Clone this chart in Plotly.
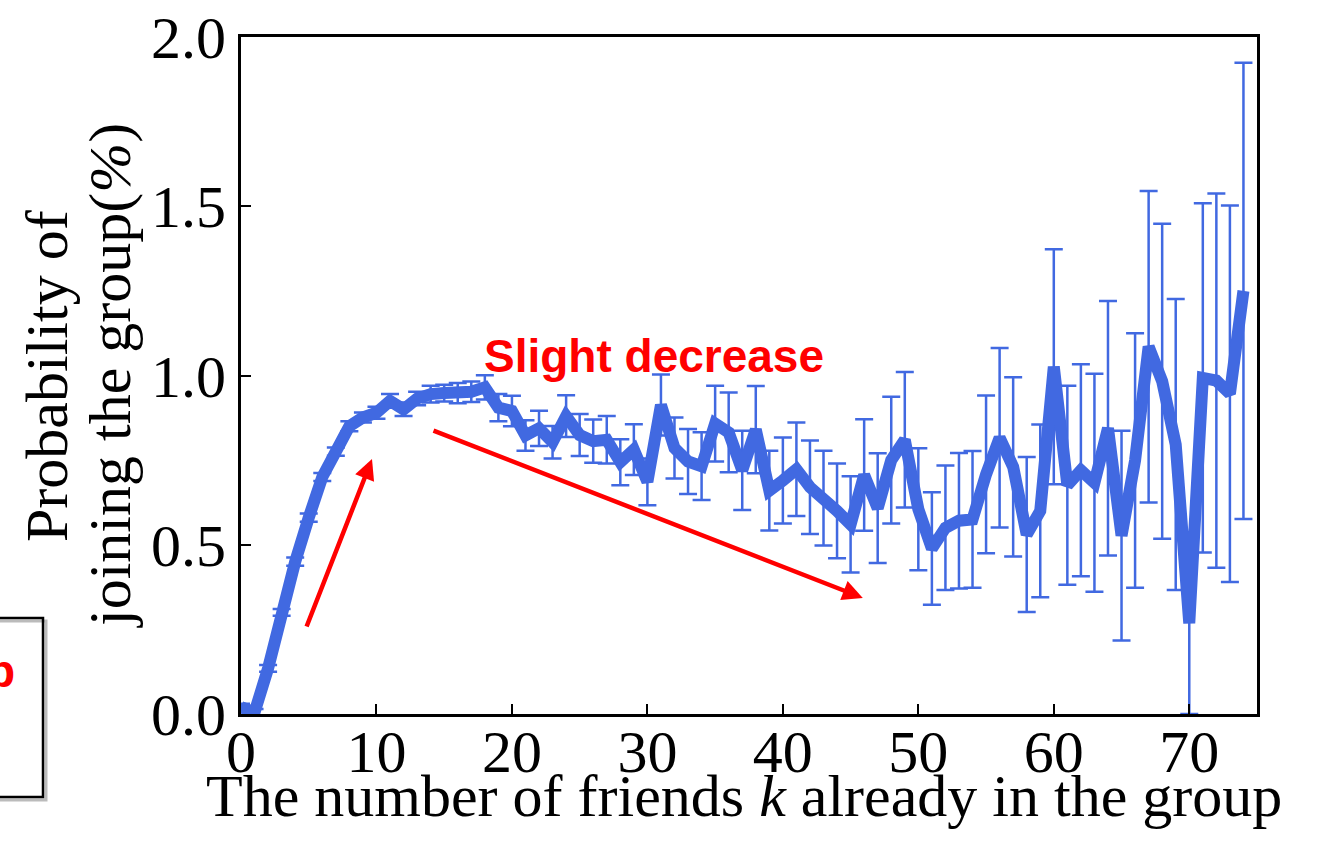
import plotly.graph_objects as go

# ---- data ----
k_values = list(range(75))
prob = [0.02, 0.005, 0.135, 0.30, 0.45, 0.58, 0.70, 0.775, 0.85, 0.876,
        0.89, 0.925, 0.90, 0.932, 0.945, 0.948, 0.948, 0.952, 0.965, 0.905,
        0.895, 0.823, 0.844, 0.803, 0.88, 0.824, 0.806, 0.81, 0.744, 0.781,
        0.686, 0.913, 0.786, 0.746, 0.732, 0.858, 0.832, 0.72, 0.84, 0.66,
        0.69, 0.723, 0.67, 0.638, 0.60, 0.56, 0.706, 0.608, 0.75, 0.81,
        0.605, 0.489, 0.55, 0.571, 0.575, 0.708, 0.816, 0.73, 0.53, 0.60,
        1.026, 0.676, 0.72, 0.683, 0.844, 0.527, 0.749, 1.085, 0.983, 0.796,
        0.268, 0.993, 0.985, 0.946, 1.25]
err = [0.01, 0.01, 0.01, 0.01, 0.012, 0.012, 0.012, 0.012, 0.015, 0.015,
       0.018, 0.02, 0.02, 0.02, 0.025, 0.025, 0.03, 0.03, 0.036, 0.04,
       0.045, 0.045, 0.052, 0.048, 0.062, 0.062, 0.064, 0.07, 0.068, 0.075,
       0.069, 0.09, 0.09, 0.096, 0.10, 0.112, 0.118, 0.117, 0.129, 0.118,
       0.127, 0.138, 0.138, 0.14, 0.14, 0.142, 0.165, 0.162, 0.187, 0.20,
       0.18, 0.166, 0.184, 0.20, 0.202, 0.233, 0.265, 0.265, 0.229, 0.255,
       0.347, 0.294, 0.313, 0.322, 0.376, 0.31, 0.376, 0.46, 0.465, 0.43,
       0.268, 0.516, 0.553, 0.556, 0.674]
x_ticks = [0, 10, 20, 30, 40, 50, 60, 70]
y_ticks = [0.0, 0.5, 1.0, 1.5, 2.0]

BLUE = "#4169E1"
SERIF = "Liberation Serif"
SANS = "Liberation Sans"

fig = go.Figure()
fig.add_trace(go.Scatter(
    x=k_values, y=prob, mode="markers",
    marker=dict(size=1, color=BLUE, opacity=0),
    error_y=dict(type="data", array=err, visible=True, color=BLUE,
                 thickness=2.5, width=9),
    showlegend=False, hoverinfo="skip"))
fig.add_trace(go.Scatter(
    x=k_values, y=prob, mode="lines",
    line=dict(color=BLUE, width=12),
    showlegend=False))

W, H = 1317, 848
L, R, T, B = 241, 60, 37, 134
pw, ph = W - L - R, H - T - B

def px(xp):
    return (xp - L) / pw

def py(yp):
    return (H - B - yp) / ph

fig.update_layout(
    width=W, height=H,
    margin=dict(l=L, r=R, t=T, b=B),
    paper_bgcolor="white", plot_bgcolor="white",
    font=dict(family=SERIF, color="black"),
    xaxis=dict(range=[0, 75], tickvals=x_ticks, ticks="inside", ticklen=10,
               tickwidth=2, tickcolor="black", showline=True, linewidth=3,
               linecolor="black", mirror=True, showgrid=False, zeroline=False,
               automargin=False, ticklabelstandoff=-17,
               tickfont=dict(family=SERIF, size=60, color="black")),
    yaxis=dict(range=[0, 2.0], tickvals=y_ticks, tickformat=".1f",
               ticks="inside", ticklen=10, tickwidth=2, tickcolor="black",
               showline=True, linewidth=3, linecolor="black", mirror=True,
               showgrid=False, zeroline=False, automargin=False,
               tickfont=dict(family=SERIF, size=60, color="black")),
)

annotations = [
    dict(text="The number of friends <i>k</i> already in the group",
         xref="paper", yref="paper", x=px(744), y=py(796),
         xanchor="center", yanchor="middle", showarrow=False,
         font=dict(family=SERIF, size=60, color="black")),
    dict(text="Probability of", xref="paper", yref="paper",
         x=px(47), y=py(376), xanchor="center", yanchor="middle",
         textangle=-90, showarrow=False,
         font=dict(family=SERIF, size=60, color="black")),
    dict(text="joining the group(<i>%</i>)", xref="paper", yref="paper",
         x=px(110), y=py(376), xanchor="center", yanchor="middle",
         textangle=-90, showarrow=False,
         font=dict(family=SERIF, size=60, color="black")),
    dict(text="<b>Slight decrease</b>", xref="x", yref="y",
         x=30.5, y=1.058, xanchor="center", yanchor="middle",
         showarrow=False, font=dict(family=SANS, size=46, color="red")),
    dict(text="", xref="x", yref="y", axref="x", ayref="y",
         x=9.67, y=0.753, ax=4.8, ay=0.254, showarrow=True,
         arrowhead=2, arrowsize=0.9, arrowwidth=4.5, arrowcolor="red"),
    dict(text="", xref="x", yref="y", axref="x", ayref="y",
         x=45.9, y=0.343, ax=14.1, ay=0.839, showarrow=True,
         arrowhead=2, arrowsize=0.9, arrowwidth=4.5, arrowcolor="red"),
    dict(text="<b>p</b>", xref="paper", yref="paper", x=px(17), y=py(671),
         xanchor="right", yanchor="middle", showarrow=False,
         font=dict(family=SANS, size=46, color="red")),
]
fig.update_layout(annotations=annotations)

fig.add_shape(type="rect", xref="paper", yref="paper",
              x0=px(-10), x1=px(46), y0=py(800), y1=py(621),
              line=dict(color="#bbbbbb", width=3), fillcolor="rgba(0,0,0,0)",
              layer="below")
fig.add_shape(type="rect", xref="paper", yref="paper",
              x0=px(-10), x1=px(43), y0=py(797), y1=py(618),
              line=dict(color="black", width=2.5), fillcolor="rgba(0,0,0,0)")

fig.write_html("out.html")
